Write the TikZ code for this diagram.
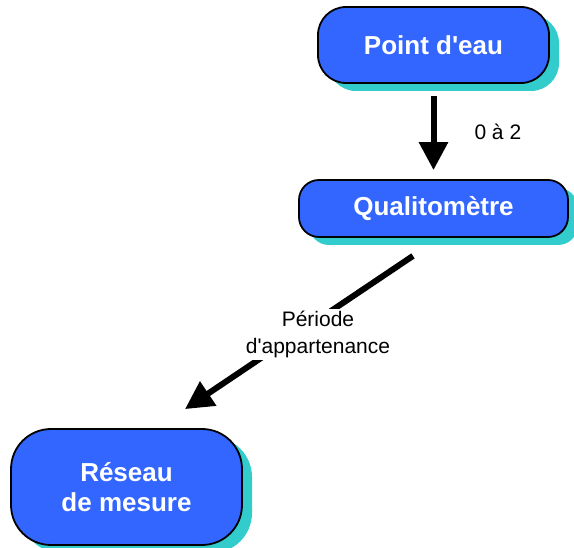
\documentclass[tikz,border=0pt]{standalone}
\usepackage{fontspec}
\setmainfont{Liberation Sans}[Ligatures=TeXOff]
\usetikzlibrary{arrows.meta,shadows}
\definecolor{boxblue}{HTML}{3366FF}
\definecolor{boxshadow}{HTML}{33CCCC}
\tikzset{
  entity/.style={draw=black, line width=1.8pt, fill=boxblue, text=white,
    font=\fontsize{26}{30}\selectfont\bfseries, align=center, inner sep=0pt,
    general shadow={fill=boxshadow, draw=none, shadow xshift=10pt, shadow yshift=-8pt}},
  link/.style={line width=6pt, -{Triangle[length=28pt,width=28pt]}},
  linklabel/.style={font=\fontsize{21}{27}\selectfont, align=center, inner sep=2pt}
}
\begin{document}
\begin{tikzpicture}
\useasboundingbox (0pt,0pt) rectangle (574pt,-548pt);

\node[entity, minimum width=231pt, minimum height=76pt, rounded corners=28pt]
  (pt) at (433.5pt,-45pt) {Point d'eau};
\node[entity, minimum width=269pt, minimum height=57pt, rounded corners=20pt]
  (qual) at (433.5pt,-208.5pt) {Qualitomètre};
\node[entity, minimum width=231pt, minimum height=116pt, rounded corners=40pt]
  (res) at (126.5pt,-487pt) {Réseau\\de mesure};

\draw[link, shorten <=12pt, shorten >=9pt] (pt.south) -- (qual.north)
  node[midway, anchor=west, xshift=36pt, linklabel] {0 à 2};

\draw[link] ([xshift=-20.5pt,yshift=-18pt]qual.south) -- ([xshift=58.5pt,yshift=19pt]res.north)
  node[midway, xshift=19pt, yshift=-2pt, fill=white, linklabel] {Période\\d'appartenance};
\end{tikzpicture}
\end{document}
